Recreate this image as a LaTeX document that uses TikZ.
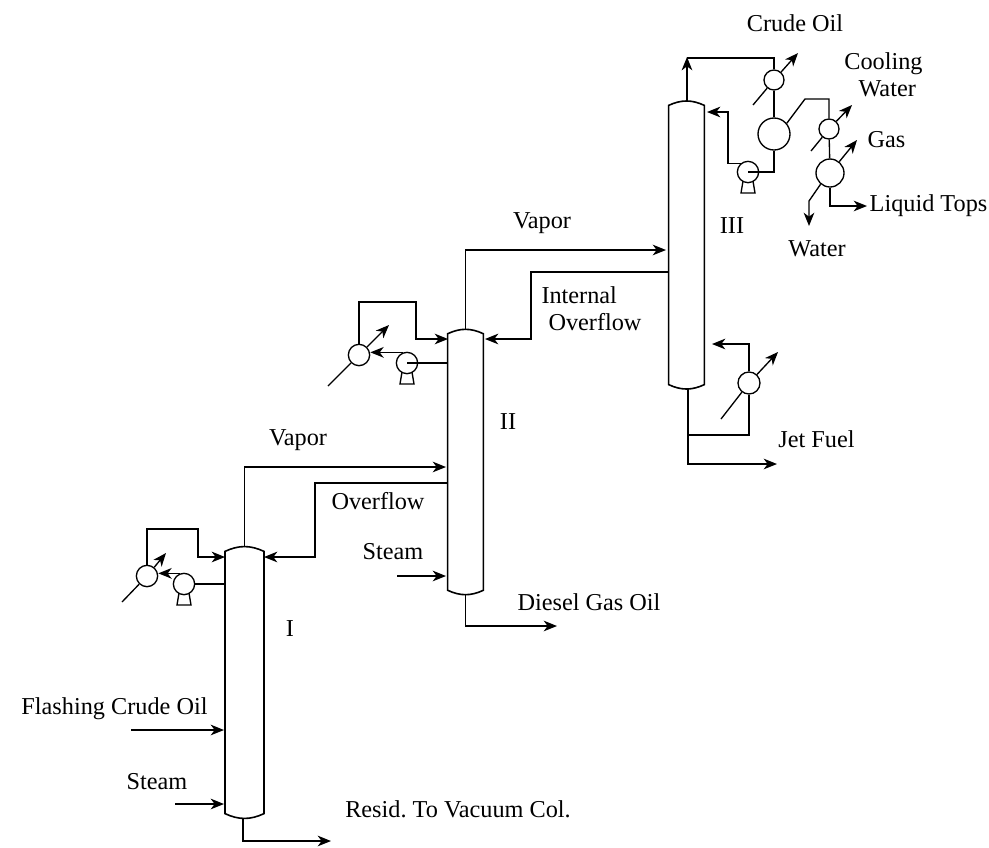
\documentclass[tikz,border=0pt]{standalone}
\usepackage{fontspec}
\setmainfont{Liberation Serif}
\usetikzlibrary{arrows.meta, positioning, calc}

\begin{document}
\begin{tikzpicture}[
  x=0.75pt, y=-0.75pt,
  column/.style={rectangle, inner sep=0pt, minimum width=26.4pt},
  exch/.style={circle, draw, fill=white, line width=1pt, inner sep=0pt, minimum size=16pt},
  pump/.style={exch},
  pipe/.style={line width=1pt},
  arr/.style={pipe, -{Stealth[length=10pt, width=8pt, inset=3pt]}},
  lbl/.style={font=\fontsize{18.2}{20.5}\selectfont, inner sep=0pt, align=center}
]
  \useasboundingbox (0,0) rectangle (989,847);

  % columns
  \node[column, minimum width=28.9pt, minimum height=203.25pt] (colI) at (244.5,682.5) {};
  \node[column, minimum height=199pt] (colII) at (465.5,462) {};
  \node[column, minimum height=216pt] (colIII) at (686.5,245) {};
  \foreach \c in {colI,colII,colIII}
    \draw[line width=1.2pt] ([yshift=-3.5pt]\c.north west) to[bend left=25] ([yshift=-3.5pt]\c.north east)
      -- ([yshift=3.5pt]\c.south east) to[bend left=25] ([yshift=3.5pt]\c.south west) -- cycle;

  % exchangers and pumps
  \node[exch] (exI) at (147,576) {};
  \node[pump] (pumpI) at (184,584) {};
  \node[exch] (exII) at (359,355) {};
  \node[pump] (pumpII) at (407,363) {};
  \node[exch, minimum size=15pt] (exIII) at (774,80) {};
  \node[exch, minimum size=24pt] (drumIII) at (774,134) {};
  \node[pump] (pumpIII) at (748,172) {};
  \node[exch, minimum size=15pt] (exGas) at (829,129) {};
  \node[exch, minimum size=21pt] (drumGas) at (830,173) {};
  \node[exch, minimum size=16.5pt] (exJet) at (749,383) {};
  \foreach \p in {pumpI,pumpII,pumpIII}
    \draw[pipe] ([shift={(-5,9)}]\p.center) -- ([shift={(-7,21)}]\p.center)
      -- ([shift={(7,21)}]\p.center) -- ([shift={(5,9)}]\p.center) ;

  % free ends
  \coordinate (tailI) at (122,602);
  \coordinate (tipI) at (166,553);
  \coordinate (loopI) at (198,529);
  \coordinate (inI) at (225,557);
  \coordinate (vaporI) at (446,467);
  \coordinate (overI) at (315,483);
  \coordinate (backI) at (264,557);
  \coordinate (feedA) at (131,730);
  \coordinate (feedB) at (224,730);
  \coordinate (steamA) at (175,804);
  \coordinate (steamB) at (224,804);
  \coordinate (residA) at (243,818);
  \coordinate (residB) at (331,841);
  \coordinate (tailII) at (328,386);
  \coordinate (tipII) at (389,325);
  \coordinate (loopII) at (416,302);
  \coordinate (inII) at (448,339);
  \coordinate (vaporII) at (666,250);
  \coordinate (overII) at (531,272);
  \coordinate (backII) at (485,339);
  \coordinate (steamC) at (397,576);
  \coordinate (steamD) at (446,576);
  \coordinate (dieselB) at (557,626);
  \coordinate (topIII) at (687,101);
  \coordinate (topB) at (687,58);
  \coordinate (topC) at (687,57);
  \coordinate (tailIII) at (753,105);
  \coordinate (tipIII) at (798,53);
  \coordinate (refluxA) at (728,112);
  \coordinate (refluxB) at (707,112);
  \coordinate (gasA) at (805,99);
  \coordinate (tailGas) at (811,151);
  \coordinate (tipGas) at (852,105);
  \coordinate (gasTip) at (857,140);
  \coordinate (waterA) at (809,201);
  \coordinate (waterB) at (809,226);
  \coordinate (liquidB) at (867,206);
  \coordinate (jetA) at (688,389);
  \coordinate (jetB) at (777,464);
  \coordinate (jetC) at (688,435);
  \coordinate (retB) at (712,344);
  \coordinate (tailJet) at (721,419);
  \coordinate (tipJet) at (778,352);

  % column I
  \draw[pipe] (tailI) -- (exI);
  \draw[arr] (exI) -- (tipI);
  \draw[arr] (exI.north) |- (loopI) |- (inI);
  \draw[arr] (pumpI.110) -- (pumpI.110 -| exI.east);
  \draw[pipe] (colI.west |- pumpI) -- (pumpI);
  \draw[arr] (colI.north) |- (vaporI);
  \draw[arr] (colII.west |- overI) -| (overI) |- (backI);
  \draw[arr] (feedA) -- (feedB);
  \draw[arr] (steamA) -- (steamB);
  \draw[arr] (residA) |- (residB);

  % column II
  \draw[pipe] (tailII) -- (exII);
  \draw[arr] (exII) -- (tipII);
  \draw[arr] (exII.north) |- (loopII) |- (inII);
  \draw[arr] (pumpII.110) -- (pumpII.110 -| exII.east);
  \draw[pipe] (colII.west |- pumpII) -- (pumpII.center);
  \draw[arr] (colII.north) |- (vaporII);
  \draw[arr] (colIII.west |- overII) -| (overII) |- (backII);
  \draw[arr] (steamC) -- (steamD);
  \draw[arr] (colII.south) |- (dieselB);

  % column III
  \draw[pipe] (exIII.north) |- (topB);
  \draw[arr] (topIII) -- (topC);
  \draw[pipe] (tailIII) -- (exIII);
  \draw[arr] (exIII) -- (tipIII);
  \draw[pipe] (exIII) -- (drumIII);
  \draw[pipe] (drumIII.south) |- (pumpIII.center);
  \draw[arr] (pumpIII.130) -| (refluxA) -- (refluxB);
  \draw[pipe] (drumIII.40) -- (gasA) -| (exGas.north);
  \draw[pipe] (tailGas) -- (exGas);
  \draw[arr] (exGas) -- (tipGas);
  \draw[pipe] (exGas) -- (drumGas);
  \draw[arr] (drumGas) -- (gasTip);
  \draw[arr] (drumGas.230) -- (waterA) -- (waterB);
  \draw[arr] (drumGas.south) |- (liquidB);
  \draw[arr] (jetA) |- (jetB);
  \draw[pipe] (jetC) -| (exJet.south);
  \draw[arr] (exJet.north) |- (retB);
  \draw[pipe] (tailJet) -- (exJet);
  \draw[arr] (exJet) -- (tipJet);

  % labels
  \node[lbl] (crude) at (795,23) {Crude Oil};
  \node[lbl] (cooling) at (883.5,75) {Cooling\\\hspace*{5.5pt}Water};
  \node[lbl] (gas) at (886.5,140) {Gas};
  \node[lbl] (liquid) at (928.5,206) {Liquid Tops};
  \node[lbl] (water) at (817,249) {Water};
  \node[lbl] (romanIII) at (732,226) {III};
  \node[lbl] (vaporLbl) at (542,223) {Vapor};
  \node[lbl, align=left] (internal) at (591.5,309) {Internal\\\hspace*{5.25pt}Overflow};
  \node[lbl] (romanII) at (508,422) {II};
  \node[lbl] (vaporLblB) at (298,440) {Vapor};
  \node[lbl] (overflow) at (378,501) {Overflow};
  \node[lbl] (steamLbl) at (393,552) {Steam};
  \node[lbl] (diesel) at (589,602) {Diesel Gas Oil};
  \node[lbl] (jet) at (816.5,439) {Jet Fuel};
  \node[lbl] (romanI) at (290,629) {I};
  \node[lbl] (flashing) at (114.5,709) {Flashing Crude Oil};
  \node[lbl] (steamLblB) at (157,782) {Steam};
  \node[lbl] (resid) at (458,809) {Resid.\ To Vacuum Col.};
\end{tikzpicture}
\end{document}
